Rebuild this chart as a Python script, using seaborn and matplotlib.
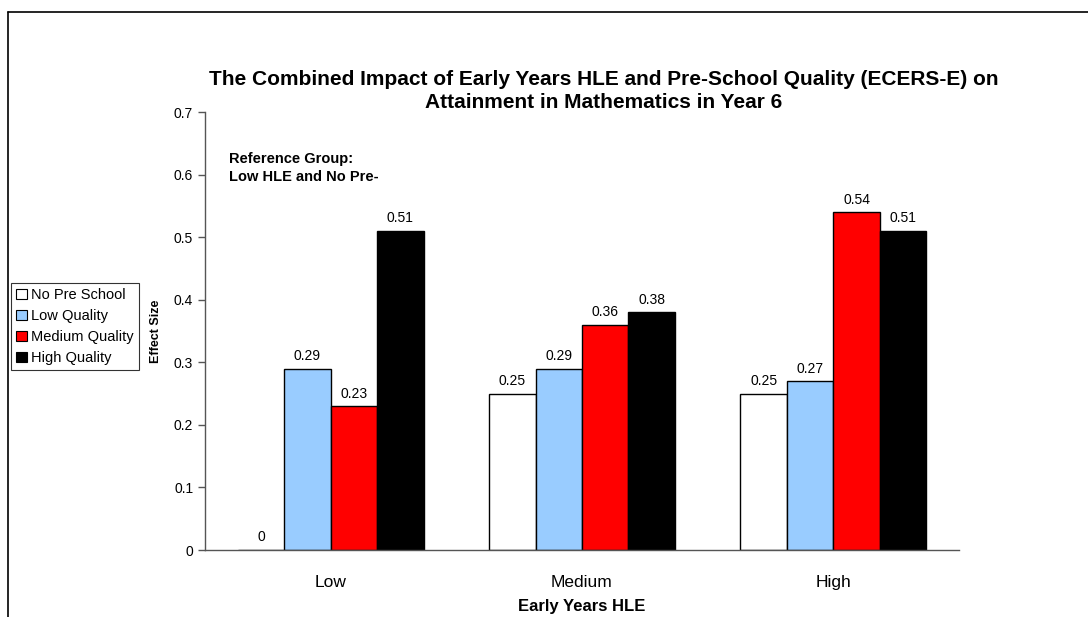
import pandas as pd
import matplotlib.pyplot as plt
import seaborn as sns
from matplotlib.lines import Line2D
from matplotlib.patches import Patch

# Chart data
hle_levels = ["Low", "Medium", "High"]
quality = ["No Pre School", "Low Quality", "Medium Quality", "High Quality"]
no_pre = [0.00, 0.25, 0.25]
low_q = [0.29, 0.29, 0.27]
medium_q = [0.23, 0.36, 0.54]
high_q = [0.51, 0.38, 0.51]
colors = ["#FFFFFF", "#99CCFF", "#FF0000", "#000000"]

rows = []
for q, vals in zip(quality, [no_pre, low_q, medium_q, high_q]):
    for h, v in zip(hle_levels, vals):
        rows.append({"HLE": h, "Quality": q, "Effect": v})
df = pd.DataFrame(rows)

sns.set_style("white")
plt.rcParams["font.family"] = ["Liberation Sans", "DejaVu Sans"]
plt.rcParams["text.color"] = "black"
plt.rcParams["xtick.color"] = "black"
plt.rcParams["ytick.color"] = "black"

W, H = 1088, 617
fig = plt.figure(figsize=(W / 100, H / 100), dpi=100)
ax = fig.add_axes([205 / W, 1 - 550 / H, (959 - 205) / W, (550 - 112) / H])

sns.barplot(
    data=df, x="HLE", y="Effect", hue="Quality",
    order=hle_levels, hue_order=quality, palette=colors,
    width=0.74, gap=0, edgecolor="black", linewidth=1,
    saturation=1, legend=False, ax=ax,
)

for cont in ax.containers:
    ax.bar_label(cont, fmt="%g", padding=4, fontsize=10, color="black")

ax.set_ylim(0, 0.7)
ax.set_xlim(-0.5, 2.5)
ax.set_yticks([0, 0.1, 0.2, 0.3, 0.4, 0.5, 0.6, 0.7])
ax.set_yticklabels(["0", "0.1", "0.2", "0.3", "0.4", "0.5", "0.6", "0.7"], fontsize=10)
ax.set_xticks([0, 1, 2])
ax.set_xticklabels(hle_levels, fontsize=12.5)
ax.set_xticks([-0.5, 0.5, 1.5, 2.5], minor=True)
ax.tick_params(axis="x", which="major", length=0, pad=18, labelcolor="black")
ax.tick_params(axis="x", which="minor", length=6, width=1, color="#555555", direction="out")
ax.tick_params(axis="y", length=5, width=1, color="#555555", direction="out", left=True,
               labelcolor="black")

for s in ["top", "right"]:
    ax.spines[s].set_visible(False)
for s in ["left", "bottom"]:
    ax.spines[s].set_color("#555555")
    ax.spines[s].set_linewidth(1)

ax.set_xlabel("")
ax.set_ylabel("")
fig.text(582 / W, 1 - 606 / H, "Early Years HLE", ha="center", va="center",
         fontsize=12, fontweight="bold", color="black")
fig.text(156 / W, 1 - 331 / H, "Effect Size", ha="center", va="center",
         rotation=90, fontsize=9, fontweight="bold", color="black")

fig.text(604 / W, 1 - 91 / H,
         "The Combined Impact of Early Years HLE and Pre-School Quality (ECERS-E) on\n"
         "Attainment in Mathematics in Year 6",
         ha="center", va="center", fontsize=15, fontweight="bold", linespacing=1.25,
         color="black")

fig.text(229 / W, 1 - 168 / H, "Reference Group:\nLow HLE and No Pre-",
         ha="left", va="center", fontsize=10.5, fontweight="bold", linespacing=1.45,
         color="black")

handles = [Patch(facecolor=c, edgecolor="black", linewidth=0.8) for c in colors]
leg = fig.legend(handles, quality, loc="upper left",
                 bbox_to_anchor=(11 / W, 1 - 283 / H),
                 fontsize=10.5, frameon=True, fancybox=False,
                 handlelength=0.75, handleheight=0.75, handletextpad=0.3,
                 borderpad=0.35, labelspacing=0.48, borderaxespad=0,
                 labelcolor="black")
leg.get_frame().set_edgecolor("black")
leg.get_frame().set_linewidth(0.8)

# outer frame lines (left and top)
fig.add_artist(Line2D([8 / W, 8 / W], [0, 1 - 12 / H], color="black", lw=1.2,
                      transform=fig.transFigure))
fig.add_artist(Line2D([8 / W, 1], [1 - 12 / H, 1 - 12 / H], color="black", lw=1.2,
                      transform=fig.transFigure))

plt.savefig("out.png", dpi=100)
